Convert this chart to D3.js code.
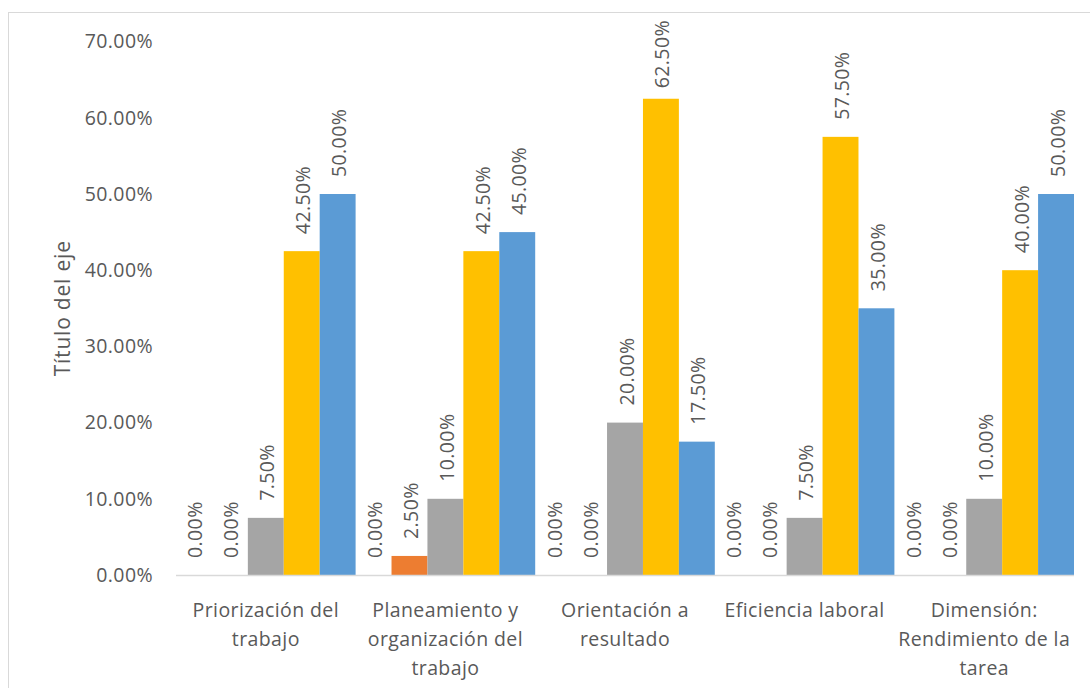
<!DOCTYPE html>
<html>
<head>
<meta charset="utf-8">
<script src="https://cdn.jsdelivr.net/npm/d3@7"></script>
<style>
  html, body { margin: 0; padding: 0; background: #fff; }
  svg { display: block; }
  text { font-family: "Open Sans", sans-serif; fill: #595959; }
</style>
</head>
<body>
<svg id="chart" width="1090" height="688"></svg>
<script>
// Categories (line breaks mark where each axis label wraps)
const categories = [
  "Priorización del\ntrabajo",
  "Planeamiento y\norganización del\ntrabajo",
  "Orientación a\nresultado",
  "Eficiencia laboral",
  "Dimensión:\nRendimiento de la\ntarea"
];

// Percentages per series, one value per category
const serie1 = [0, 0, 0, 0, 0];
const serie2 = [0, 2.5, 0, 0, 0];
const serie3 = [7.5, 10, 20, 7.5, 10];
const serie4 = [42.5, 42.5, 62.5, 57.5, 40];
const serie5 = [50, 45, 17.5, 35, 50];

const seriesNames = ["Serie1", "Serie2", "Serie3", "Serie4", "Serie5"];
const seriesValues = [serie1, serie2, serie3, serie4, serie5];
const seriesColors = ["#4472C4", "#ED7D31", "#A5A5A5", "#FFC000", "#5B9BD5"];

const yTicks = [0, 10, 20, 30, 40, 50, 60, 70];
const axisTitle = "Título del eje";

const svg = d3.select("#chart");
const W = 1090, H = 688;
const plot = { left: 176, right: 1074, top: 41.6, bottom: 575 };
const fontSize = 19.5;
const letterSpacing = 0.4;

// Chart frame
svg.append("rect")
  .attr("x", 8.5).attr("y", 12.5)
  .attr("width", W + 10).attr("height", H + 10)
  .attr("fill", "#fff").attr("stroke", "#D9D9D9").attr("stroke-width", 1);

const x0 = d3.scaleBand().domain(d3.range(categories.length))
  .range([plot.left, plot.right]).paddingInner(0).paddingOuter(0);
const x1 = d3.scaleBand().domain(d3.range(seriesNames.length))
  .range([0, x0.bandwidth()]).padding(0);
const y = d3.scaleLinear().domain([0, 70]).range([plot.bottom, plot.top]);

// Bars
const groups = svg.append("g").selectAll("g")
  .data(categories.map((c, i) => i))
  .join("g")
  .attr("transform", i => `translate(${x0(i)},0)`);

groups.selectAll("rect")
  .data(i => seriesValues.map((vals, s) => ({ s, v: vals[i] })))
  .join("rect")
  .attr("x", d => x1(d.s))
  .attr("width", x1.bandwidth())
  .attr("y", d => y(d.v))
  .attr("height", d => y(0) - y(d.v))
  .attr("fill", d => seriesColors[d.s]);

// Category axis line
svg.append("line")
  .attr("x1", plot.left).attr("x2", plot.right)
  .attr("y1", plot.bottom + 0.5).attr("y2", plot.bottom + 0.5)
  .attr("stroke", "#D9D9D9").attr("stroke-width", 1.3);

// Value axis labels
const yAxis = d3.axisLeft(y).tickValues(yTicks)
  .tickFormat(d => d3.format(".2f")(d) + "%")
  .tickSize(0).tickPadding(0);
const yg = svg.append("g")
  .attr("transform", `translate(${plot.left - 23},0)`)
  .call(yAxis);
yg.select(".domain").remove();
yg.selectAll("text")
  .style("font-family", "'Open Sans', sans-serif")
  .style("font-size", fontSize + "px")
  .style("letter-spacing", letterSpacing + "px")
  .attr("fill", "#595959");

// Axis title
svg.append("text")
  .attr("transform", `translate(62,${(plot.top + plot.bottom) / 2}) rotate(-90)`)
  .attr("text-anchor", "middle")
  .attr("dominant-baseline", "central")
  .style("font-size", "21px")
  .style("letter-spacing", "0.8px")
  .text(axisTitle);

// Category labels (wrapped)
const catLabels = svg.append("g").selectAll("text")
  .data(categories)
  .join("text")
  .attr("text-anchor", "middle")
  .style("font-size", fontSize + "px")
  .style("letter-spacing", letterSpacing + "px");
catLabels.each(function(c, i) {
  const t = d3.select(this);
  c.split("\n").forEach((line, k) => {
    t.append("tspan")
      .attr("x", x0(i) + x0.bandwidth() / 2)
      .attr("y", 609 + k * 29)
      .attr("dominant-baseline", "central")
      .text(line);
  });
});

// Rotated value labels above each bar
const fmt = v => d3.format(".2f")(v) + "%";
groups.each(function(i) {
  const g = d3.select(this);
  seriesValues.forEach((vals, s) => {
    const v = vals[i];
    const cx = x1(s) + x1.bandwidth() / 2;
    const label = g.append("text")
      .attr("text-anchor", "start")
      .attr("dominant-baseline", "central")
      .style("font-size", fontSize + "px")
      .style("letter-spacing", letterSpacing + "px")
      .text(fmt(v));
    const len = label.node().getComputedTextLength();
    let start = y(v) - 17;
    if (start - len < 20) start = 20 + len;
    label.attr("transform", `translate(${cx + 1},${start}) rotate(-90)`);
  });
});
</script>
</body>
</html>
